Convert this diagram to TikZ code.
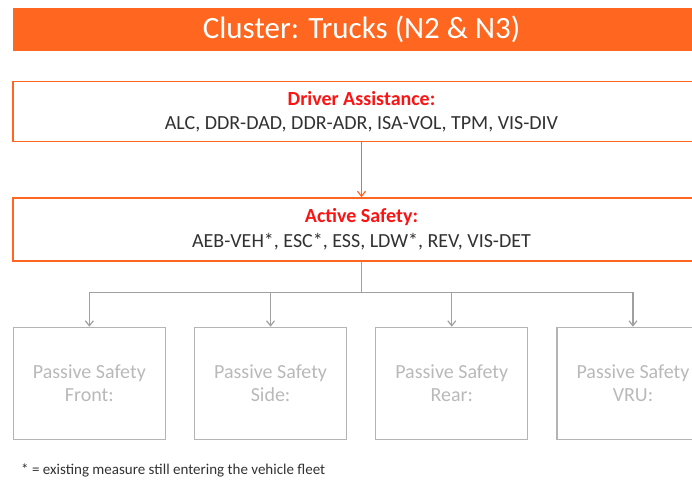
\documentclass[tikz,border=0pt]{standalone}
\usepackage{fontspec}
\setmainfont{Carlito}
\usetikzlibrary{arrows.meta, positioning}
\definecolor{TitleOrange}{RGB}{255,102,31}
\definecolor{HeadRed}{RGB}{250,20,20}
\definecolor{BodyText}{RGB}{50,50,50}
\definecolor{LineGray}{RGB}{160,160,160}
\definecolor{BoxGray}{RGB}{180,180,180}
\definecolor{TextGray}{RGB}{185,185,185}

\begin{document}
\begin{tikzpicture}[x=1pt, y=-1pt, >={Straight Barb[length=5pt, width=8pt]}, node distance=30pt, every node/.style={font=\fontsize{20}{24}\selectfont, text=BodyText}]
    \useasboundingbox (0,0) rectangle (692,482);
    \clip (0,0) rectangle (692,482);
    % Title and main flow
    \node[fill=TitleOrange, text=white, minimum width=697pt, minimum height=43pt, inner sep=0pt, font=\fontsize{31}{36}\selectfont] (title) at (361.5,29) {Cluster: Trucks (N2 \& N3)};
    \node[draw=TitleOrange, line width=1.5pt, fill=white, minimum width=697pt, minimum height=60pt, inner sep=0pt, align=center, below=30pt of title] (drv) {\textcolor{HeadRed}{\textbf{Driver Assistance:}}\\ ALC, DDR-DAD, DDR-ADR, ISA-VOL, TPM, VIS-DIV};
    \node[draw=TitleOrange, line width=1.5pt, fill=white, minimum width=697pt, minimum height=63pt, inner sep=0pt, align=center, font=\fontsize{20}{25}\selectfont, below=55pt of drv] (act) {\textcolor{HeadRed}{\textbf{Active Safety:}}\\ AEB-VEH*, ESC*, ESS, LDW*, REV, VIS-DET};
    % Passive safety boxes
    \node[draw=BoxGray, line width=1.2pt, text=TextGray, minimum width=152pt, minimum height=112pt, inner sep=0pt, align=center, font=\fontsize{20}{23}\selectfont, below right=65pt and 0.5pt of act.south west] (front) {Passive Safety\\ Front:};
    \node[draw=BoxGray, line width=1.2pt, text=TextGray, minimum width=152pt, minimum height=112pt, inner sep=0pt, align=center, font=\fontsize{20}{23}\selectfont, right=28pt of front] (side) {Passive Safety\\ Side:};
    \node[draw=BoxGray, line width=1.2pt, text=TextGray, minimum width=152pt, minimum height=112pt, inner sep=0pt, align=center, font=\fontsize{20}{23}\selectfont, right=28pt of side] (rear) {Passive Safety\\ Rear:};
    \node[draw=BoxGray, line width=1.2pt, text=TextGray, minimum width=152pt, minimum height=112pt, inner sep=0pt, align=center, font=\fontsize{20}{23}\selectfont, right=28pt of rear] (vru) {Passive Safety\\ VRU:};
    \node[anchor=west, inner sep=0pt, font=\fontsize{15}{18}\selectfont] (note) at (21,470) {* = existing measure still entering the vehicle fleet};
    \draw[->, line width=1.2pt, TitleOrange] (drv) -- (act);
    \draw[line width=1.2pt, LineGray] (act.south) -- ++(0,31) coordinate (split);
    \draw[->, line width=1.2pt, LineGray] (split) -| (front.north);
    \draw[->, line width=1.2pt, LineGray] (split) -| (side.north);
    \draw[->, line width=1.2pt, LineGray] (split) -| (rear.north);
    \draw[->, line width=1.2pt, LineGray] (split) -| (vru.north);
\end{tikzpicture}
\end{document}
